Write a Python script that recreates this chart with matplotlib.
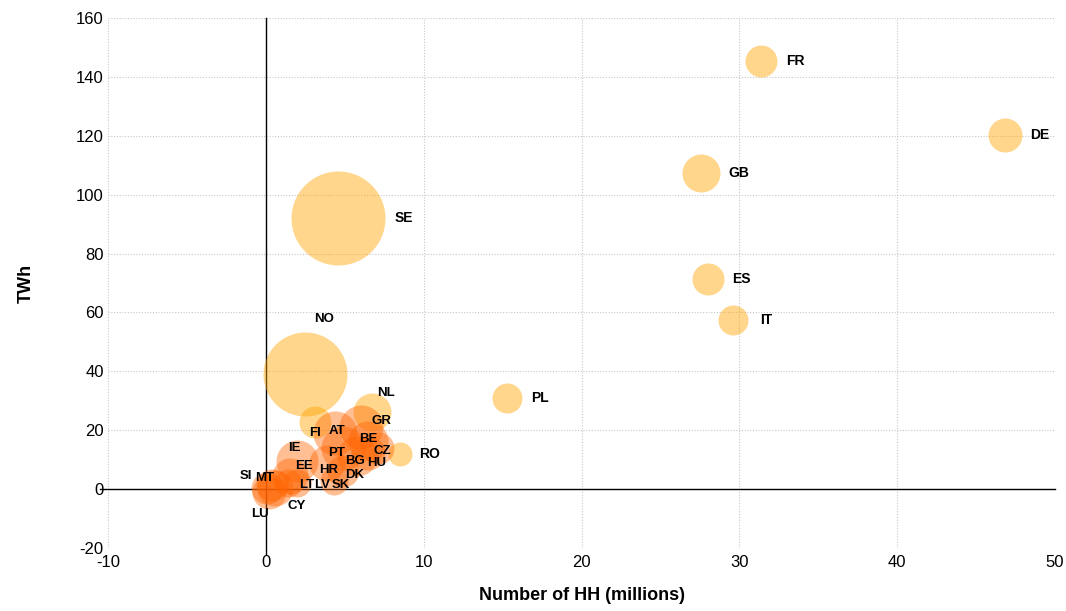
import matplotlib
matplotlib.use('Agg')
import matplotlib.pyplot as plt

# Households (millions), consumption (TWh), bubble radius (px)
countries = ['FR', 'DE', 'GB', 'ES', 'IT', 'PL', 'RO', 'SE', 'NO', 'NL', 'FI',
             'GR', 'AT', 'BE', 'CZ', 'HU', 'BG', 'PT', 'HR', 'DK', 'SK',
             'IE', 'EE', 'LV', 'LT', 'SI', 'MT', 'LU', 'CY']
households = [31.4, 46.8, 27.6, 28.0, 29.6, 15.3, 8.5, 4.6, 2.5, 6.75, 3.1,
              6.0, 4.4, 6.5, 7.1, 6.5, 5.8, 4.9, 3.9, 4.9, 4.3,
              2.0, 1.5, 2.0, 1.4, 0.4, 0.1, 0.2, 0.6]
twh = [145.3, 120.2, 107.3, 71.4, 57.5, 30.8, 12.0, 92.1, 39.0, 26.2, 22.7,
       21.0, 19.0, 16.5, 13.8, 12.4, 11.4, 14.1, 9.0, 6.3, 2.9,
       9.5, 4.6, 2.2, 2.2, 1.5, 0.5, -1.0, 0.3]
radius = [16, 17, 19, 16, 15, 15, 12, 47, 42, 19, 16,
          22, 22, 20, 16, 17, 20, 22, 18, 16, 14,
          21, 18, 14, 14, 16, 16, 17, 18]

# labels that were moved by hand in the original (data coords)
label_at = {
    'NO': (3.7, 57.7), 'NL': (7.6, 32.5), 'GR': (7.3, 23.0), 'FI': (3.1, 18.9),
    'AT': (4.5, 19.9), 'IE': (1.8, 14.1), 'BE': (6.5, 16.9), 'CZ': (7.4, 12.9),
    'HU': (7.05, 8.8), 'BG': (5.65, 9.4), 'PT': (4.5, 12.4), 'HR': (3.95, 6.6),
    'EE': (2.45, 7.7), 'DK': (5.6, 4.9), 'SK': (4.75, 1.5), 'LV': (3.55, 1.5),
    'LT': (2.6, 1.5), 'SI': (-1.25, 4.3), 'MT': (-0.1, 3.9), 'LU': (-0.4, -8.3),
    'CY': (1.95, -5.6),
}
big = ['FR', 'DE', 'GB', 'ES', 'IT', 'PL', 'RO', 'SE', 'NO', 'NL', 'FI']

plt.rcParams['font.family'] = ['Liberation Sans', 'DejaVu Sans']
plt.rcParams['axes.unicode_minus'] = False

fig = plt.figure(figsize=(10.66, 6.11), dpi=100)
ax = fig.add_axes([0.1013, 0.1031, 0.8884, 0.8674])

for c, x, y, r in zip(countries, households, twh, radius):
    s = (2 * r * 0.72) ** 2
    if c in big:
        ax.scatter(x, y, s=s, color='#FFA500', alpha=0.45, linewidths=0, zorder=3)
    else:
        ax.scatter(x, y, s=s, color='#FF6400', alpha=0.42, linewidths=0, zorder=3)

for c, x, y, r in zip(countries, households, twh, radius):
    if c in label_at:
        lx, ly = label_at[c]
        ax.text(lx, ly, c, ha='center', va='center', fontsize=9.5,
                fontweight='bold', zorder=5)
    else:
        ax.annotate(c, (x, y), xytext=((r + 18) * 0.72, 0), textcoords='offset points',
                    ha='center', va='center', fontsize=10, fontweight='bold', zorder=5)

ax.set_xlim(-10, 50)
ax.set_ylim(-20, 160)
ax.set_xticks(range(-10, 51, 10))
ax.set_yticks(range(-20, 161, 20))
ax.grid(True, color='#c8c8c8', linestyle=(0, (1, 1.5)), linewidth=0.8)
ax.set_axisbelow(True)
for sp in ax.spines.values():
    sp.set_visible(False)
ax.tick_params(length=0, labelsize=12, pad=3)
ax.tick_params(axis='x', pad=5)

# axes crossing at zero
ax.axvline(0, ymin=-0.012, ymax=1, color='black', linewidth=1, zorder=2, clip_on=False)
ax.axhline(0, xmin=-0.008, xmax=1, color='black', linewidth=1, zorder=2, clip_on=False)

ax.set_xlabel('Number of HH (millions)', fontsize=13, fontweight='bold', labelpad=12)
ax.set_ylabel('TWh', fontsize=13, fontweight='bold', labelpad=30)

fig.savefig('out.png', dpi=100)
